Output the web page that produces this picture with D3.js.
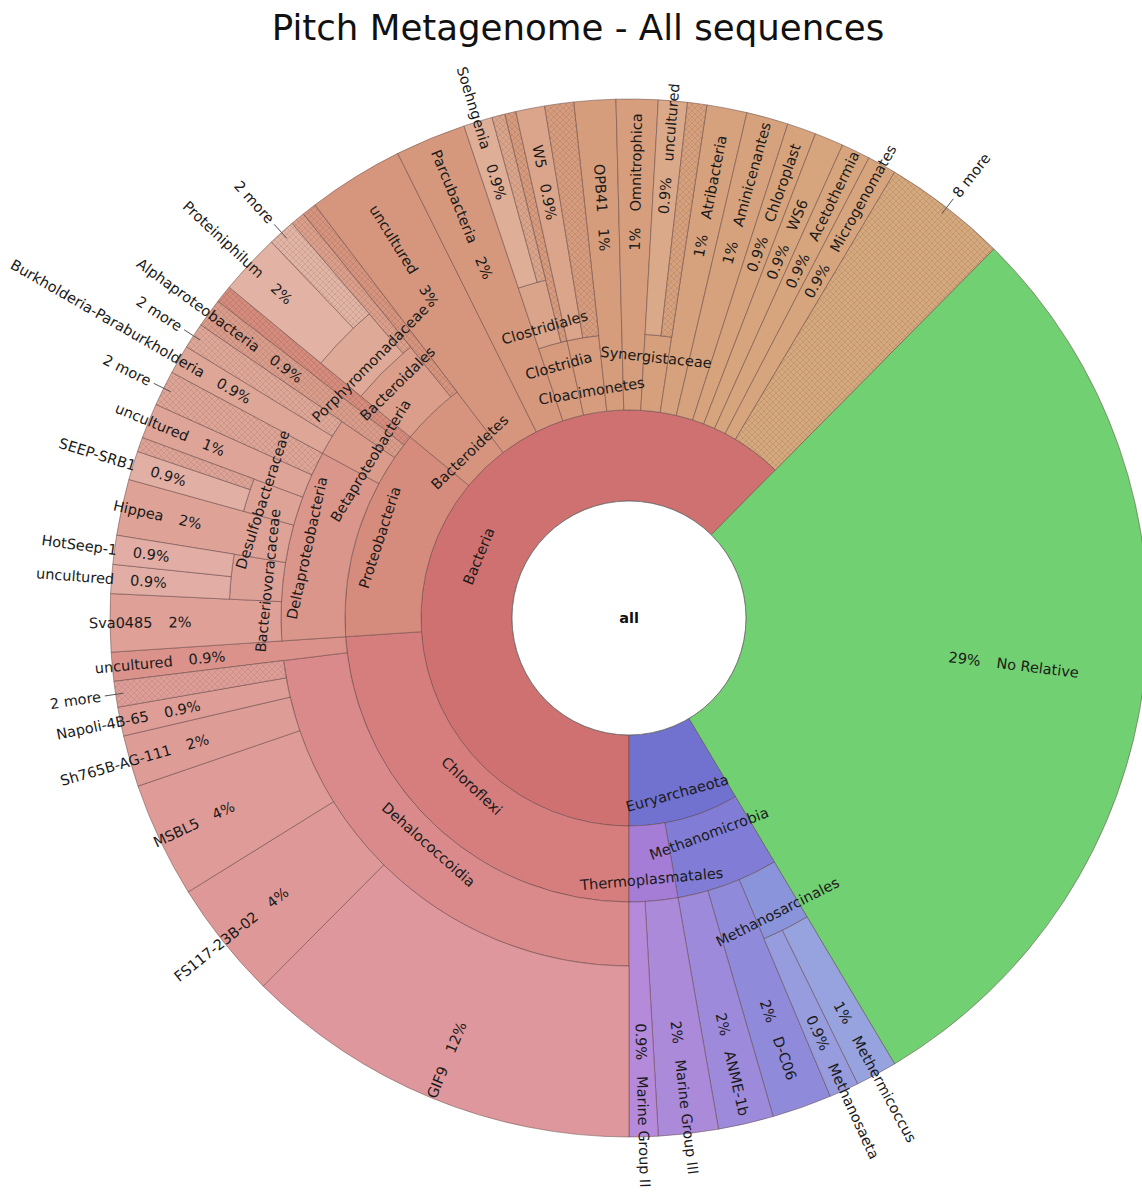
<!DOCTYPE html>
<html>
<head>
<meta charset="utf-8">
<script src="https://cdn.jsdelivr.net/npm/d3@7"></script>
<style>
  body { margin: 0; background: #fff; }
  svg { display: block; font-family: "DejaVu Sans", Verdana, sans-serif; }
</style>
</head>
<body>
<svg id="chart" width="1142" height="1192"></svg>
<script>
const chartTitle = "Pitch Metagenome - All sequences";
const rootLabel = "all";

// Lineage (slash separated) and share of all sequences in percent.
// kind: "more" = several small taxa shown as one hatched group,
//       "rest" = part of the parent not assigned to a child (hatched, unlabelled),
//       "hatched" = labelled taxon drawn hatched.
const chloroflexiTaxa = [
  ["Bacteria/Chloroflexi/Dehalococcoidia/GIF9", 12.45],
  ["Bacteria/Chloroflexi/Dehalococcoidia/FS117-23B-02", 3.7],
  ["Bacteria/Chloroflexi/Dehalococcoidia/MSBL5", 3.6],
  ["Bacteria/Chloroflexi/Dehalococcoidia/Sh765B-AG-111", 1.6],
  ["Bacteria/Chloroflexi/Dehalococcoidia/Napoli-4B-65", 0.9],
  ["Bacteria/Chloroflexi/Dehalococcoidia/2 more", 0.8, "more"],
  ["Bacteria/Chloroflexi/uncultured", 0.9]
];

const proteobacteriaTaxa = [
  ["Bacteria/Proteobacteria/Deltaproteobacteria/Sva0485", 1.8],
  ["Bacteria/Proteobacteria/Deltaproteobacteria/Bacteriovoracaceae/uncultured", 0.9],
  ["Bacteria/Proteobacteria/Deltaproteobacteria/Bacteriovoracaceae/HotSeep-1", 0.9],
  ["Bacteria/Proteobacteria/Deltaproteobacteria/Hippea", 1.75],
  ["Bacteria/Proteobacteria/Deltaproteobacteria/Desulfobacteraceae/SEEP-SRB1", 0.9],
  ["Bacteria/Proteobacteria/Deltaproteobacteria/Desulfobacteraceae/", 0.45, "rest"],
  ["Bacteria/Proteobacteria/Deltaproteobacteria/uncultured", 1.1],
  ["Bacteria/Proteobacteria/Deltaproteobacteria/2 more", 1.1, "more"],
  ["Bacteria/Proteobacteria/Betaproteobacteria/Burkholderia-Paraburkholderia", 0.9],
  ["Bacteria/Proteobacteria/Betaproteobacteria/2 more", 0.8, "more"],
  ["Bacteria/Proteobacteria/Alphaproteobacteria", 0.9, "hatched"],
  ["Bacteria/Proteobacteria/", 0.55, "rest"]
];

const otherBacteriaTaxa = [
  ["Bacteria/Bacteroidetes/Bacteroidales/Porphyromonadaceae/Proteiniphilum", 1.9],
  ["Bacteria/Bacteroidetes/Bacteroidales/Porphyromonadaceae/2 more", 0.85, "more"],
  ["Bacteria/Bacteroidetes/Bacteroidales/", 0.45, "rest"],
  ["Bacteria/Bacteroidetes/", 0.45, "rest"],
  ["Bacteria/uncultured", 3.0],
  ["Bacteria/Parcubacteria", 2.2],
  ["Bacteria/Clostridia/Clostridiales/Soehngenia", 0.9],
  ["Bacteria/Clostridia/Clostridiales/", 0.4, "rest"],
  ["Bacteria/Clostridia/", 0.35, "rest"],
  ["Bacteria/Cloacimonetes/W5", 0.9],
  ["Bacteria/Cloacimonetes/", 0.9, "rest"],
  ["Bacteria/OPB41", 1.3],
  ["Bacteria/Omnitrophica", 1.3],
  ["Bacteria/Synergistaceae/uncultured", 0.9],
  ["Bacteria/Synergistaceae/", 0.6, "rest"],
  ["Bacteria/Atribacteria", 1.25],
  ["Bacteria/Aminicenantes", 1.3],
  ["Bacteria/Chloroplast", 0.9],
  ["Bacteria/WS6", 0.9],
  ["Bacteria/Acetothermia", 0.9],
  ["Bacteria/Microgenomates", 0.9],
  ["Bacteria/8 more", 3.86, "more"]
];

const unclassifiedTaxa = [
  ["No Relative", 29.04]
];

const archaeaTaxa = [
  ["Euryarchaeota/Methanomicrobia/Methanosarcinales/Methermicoccus", 1.29],
  ["Euryarchaeota/Methanomicrobia/Methanosarcinales/Methanosaeta", 0.92],
  ["Euryarchaeota/Methanomicrobia/D-C06", 1.86],
  ["Euryarchaeota/Methanomicrobia/ANME-1b", 1.72],
  ["Euryarchaeota/Thermoplasmatales/Marine Group III", 1.86],
  ["Euryarchaeota/Thermoplasmatales/Marine Group II", 0.9]
];

// Base hue of each top-level group and the hue range its descendants spread over.
const groupHues = [
  ["Bacteria", 0, -8, 30],
  ["No Relative", 120, 120, 120],
  ["Euryarchaeota", 240, 226, 276]
];

// ---------------------------------------------------------------------------
const width = 1142, height = 1192;
const cx = 629, cy = 618;
const holeRadius = 117, outerRadius = 519;
const ringEdges = [117, 208, 284, 348, 400, 443];   // inner edge of the ring at depth 1..6
const fontSize = 14.5;

function buildTree(rows) {
  const root = { name: rootLabel, children: [] };
  for (const [path, value, kind] of rows) {
    const parts = path.split("/");
    let node = root;
    parts.forEach((name, i) => {
      if (i === parts.length - 1) {
        node.children.push({ name, value, kind: kind || "taxon" });
      } else {
        let child = node.children.find(c => c.name === name && c.children);
        if (!child) { child = { name, children: [] }; node.children.push(child); }
        node = child;
      }
    });
  }
  return root;
}

const rows = [...chloroflexiTaxa, ...proteobacteriaTaxa, ...otherBacteriaTaxa,
              ...unclassifiedTaxa, ...archaeaTaxa];
const root = d3.hierarchy(buildTree(rows)).sum(d => d.children ? 0 : d.value);
const total = root.value;
d3.partition().size([total, 1])(root);

const angle = d3.scaleLinear().domain([0, total]).range([Math.PI, 3 * Math.PI]);
const ring = d3.scaleLinear().domain([1, 2, 3, 4, 5, 6]).range(ringEdges);
const innerR = d => ring(d.depth);
const outerR = d => d.children ? ring(d.depth + 1) : outerRadius;
const midAngle = d => angle((d.x0 + d.x1) / 2);
const toDeg = a => ((a * 180 / Math.PI) % 360 + 360) % 360;
const polar = (r, a) => [r * Math.sin(a), -r * Math.cos(a)];

const hueInfo = new Map(groupHues.map(g => [g[0], g]));
function nodeColor(d) {
  if (d.data.kind === "rest") d = d.parent;
  const top = d.ancestors().find(a => a.depth === 1);
  const [, base, h0, h1] = hueInfo.get(top.data.name);
  let h = base;
  if (d.depth > 1) {
    const frac = ((d.x0 + d.x1) / 2 - top.x0) / (top.x1 - top.x0);
    h = d3.scaleLinear().domain([0, 1]).range([h0, h1])(frac);
  }
  const l = 0.63 + 0.034 * (d.depth - 1);
  const s = d.depth === 1 ? 0.5 : 0.52;
  return d3.hsl(h, s, l).formatHex();
}

const pctText = v => {
  const p = v / total * 100;
  return (p < 1 ? d3.format(".1f")(p) : d3.format(".0f")(p)) + "%";
};

const svg = d3.select("#chart");
svg.append("text")
  .attr("x", 578).attr("y", 40)
  .attr("text-anchor", "middle")
  .attr("font-size", 35.6)
  .attr("fill", "#111")
  .text(chartTitle);

const g = svg.append("g").attr("transform", `translate(${cx},${cy})`);
const defs = svg.append("defs");

const nodes = root.descendants().filter(d => d.depth > 0);
const isHatched = d => ["more", "rest", "hatched"].includes(d.data.kind);

nodes.forEach((d, i) => {
  d.color = nodeColor(d);
  d.fillRef = d.color;
  if (isHatched(d)) {
    const id = "hatch" + i;
    const p = defs.append("pattern").attr("id", id)
      .attr("patternUnits", "userSpaceOnUse").attr("width", 6).attr("height", 6);
    p.append("rect").attr("width", 6).attr("height", 6).attr("fill", d.color);
    p.append("path").attr("d", "M0,0L6,6M6,0L0,6")
      .attr("stroke", d3.color(d.color).darker(0.8))
      .attr("stroke-width", 0.7).attr("stroke-opacity", 0.5);
    d.fillRef = `url(#${id})`;
  }
});

const arc = d3.arc()
  .startAngle(d => angle(d.x0))
  .endAngle(d => angle(d.x1))
  .innerRadius(innerR)
  .outerRadius(outerR);

g.selectAll("path.wedge")
  .data(nodes)
  .join("path")
  .attr("class", "wedge")
  .attr("d", arc)
  .attr("fill", d => d.fillRef)
  .attr("stroke", "#5a3e3e")
  .attr("stroke-opacity", 0.6)
  .attr("stroke-width", 0.8);

// centre
g.append("circle").attr("r", holeRadius).attr("fill", "#fff")
  .attr("stroke", "#666").attr("stroke-width", 0.8);
g.append("text").attr("text-anchor", "middle").attr("dy", "0.35em")
  .attr("font-size", fontSize).attr("font-weight", "bold").attr("fill", "#111")
  .text(root.data.name);

const labels = g.append("g").attr("font-size", fontSize).attr("fill", "#1a1a1a");

// Ring labels for inner nodes: tangential, alternately nudged in and out within a ring.
const inner = nodes.filter(d => d.children).sort((a, b) => a.depth - b.depth || a.x0 - b.x0);
const ringCount = new Map();
inner.forEach(d => {
  const k = ringCount.get(d.depth) || 0;
  ringCount.set(d.depth, k + 1);
  const span = angle(d.x1) - angle(d.x0);
  const w = outerR(d) - innerR(d);
  const off = span > Math.PI ? 0 : (k % 2 === 0 ? -1 : 1) * 0.21 * w;
  const r = (innerR(d) + outerR(d)) / 2 + off;
  const a = midAngle(d);
  const t = toDeg(a);
  const rot = (t > 90 && t < 270) ? t - 180 : t;
  const [x, y] = polar(r, a);
  labels.append("text")
    .attr("transform", `translate(${x},${y}) rotate(${rot})`)
    .attr("text-anchor", "middle").attr("dy", "0.35em")
    .text(d.data.name);
});

// Radial labels for leaf taxa: name and share, reading away from the centre on the right.
nodes.filter(d => !d.children && (d.data.kind === "taxon" || d.data.kind === "hatched"))
  .forEach(d => {
    const a = midAngle(d);
    const t = toDeg(a);
    const right = t < 180;
    const r = (innerR(d) + outerR(d)) / 2 + 4;
    const [x, y] = polar(r, a);
    const txt = labels.append("text")
      .attr("transform", `translate(${x},${y}) rotate(${right ? t - 90 : t + 90})`)
      .attr("text-anchor", right ? "start" : "end")
      .attr("dy", "0.35em");
    if (right) {
      txt.append("tspan").text(pctText(d.value));
      txt.append("tspan").attr("dx", 16).text(d.data.name);
    } else {
      txt.append("tspan").text(d.data.name);
      txt.append("tspan").attr("dx", 16).text(pctText(d.value));
    }
  });

// Grouped small taxa: short leader line and label outside the circle.
nodes.filter(d => d.data.kind === "more").forEach(d => {
  const a = midAngle(d);
  const t = toDeg(a);
  const right = t < 180;
  const [x1, y1] = polar(outerRadius - 8, a);
  const [x2, y2] = polar(outerRadius + 11, a);
  labels.append("line").attr("x1", x1).attr("y1", y1).attr("x2", x2).attr("y2", y2)
    .attr("stroke", "#555").attr("stroke-width", 1);
  const [x, y] = polar(outerRadius + 15, a);
  labels.append("text")
    .attr("transform", `translate(${x},${y}) rotate(${right ? t - 90 : t + 90})`)
    .attr("text-anchor", right ? "start" : "end")
    .attr("dy", "0.35em")
    .text(d.data.name);
});
</script>
</body>
</html>
